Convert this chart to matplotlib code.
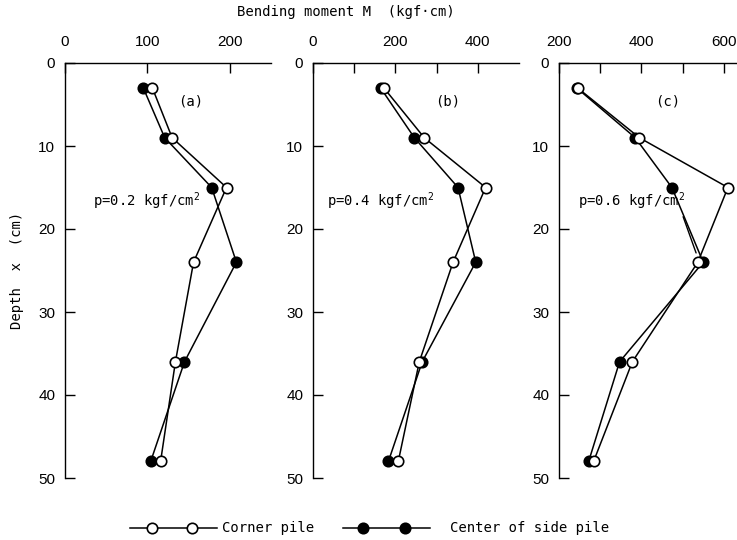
import matplotlib
matplotlib.use("Agg")
import matplotlib.pyplot as plt
from matplotlib.lines import Line2D

depth = [3, 9, 15, 24, 36, 48]

corner_a = [106, 130, 196, 156, 134, 116]
center_a = [95, 121, 178, 208, 145, 104]
corner_b = [172, 270, 419, 340, 258, 207]
center_b = [164, 246, 352, 395, 265, 183]
corner_c = [245, 395, 610, 537, 378, 284]
center_c = [243, 385, 474, 550, 347, 272]

panel_tags = ["(a)", "(b)", "(c)"]
pressures = ["p=0.2 kgf/cm$^{2}$", "p=0.4 kgf/cm$^{2}$", "p=0.6 kgf/cm$^{2}$"]
xlims = [(0, 250), (0, 500), (200, 700)]
xticks = [[0, 100, 200], [0, 100, 200, 300, 400], [200, 300, 400, 500, 600]]
xticklabels = [["0", "100", "200"], ["0", "", "200", "", "400"], ["200", "", "400", "", "600"]]
yticks = [0, 10, 20, 30, 40, 50]
legend_labels = ["Corner pile", "Center of side pile"]

mono = "DejaVu Sans Mono"
plt.rcParams["mathtext.fontset"] = "custom"
plt.rcParams["mathtext.rm"] = mono
plt.rcParams["mathtext.it"] = mono
plt.rcParams["mathtext.bf"] = mono

W, H = 737, 540
fig = plt.figure(figsize=(W / 100, H / 100), dpi=100)

lefts = [65, 313, 559]
width = 206
top, bottom = 63, 478

corners = [corner_a, corner_b, corner_c]
centers = [center_a, center_b, center_c]
tag_x = [152, 326, 463]
p_x = [34, 34, 246]

lw = 1.1
ms = 7.5
for i in range(3):
    ax = fig.add_axes([lefts[i] / W, (H - bottom) / H, width / W, (bottom - top) / H])
    ax.plot(centers[i], depth, "-o", color="black", mfc="black", mec="black",
            lw=lw, ms=ms, mew=1.2, zorder=3)
    ax.plot(corners[i], depth, "-o", color="black", mfc="white", mec="black",
            lw=lw, ms=ms, mew=1.2, zorder=4)
    ax.set_xlim(*xlims[i])
    ax.set_ylim(50, 0)
    ax.xaxis.tick_top()
    ax.set_xticks(xticks[i])
    ax.set_xticklabels(xticklabels[i])
    ax.set_yticks(yticks)
    for s in ["right", "bottom"]:
        ax.spines[s].set_visible(False)
    ax.spines["top"].set_linewidth(1.0)
    ax.spines["left"].set_linewidth(1.0)
    ax.tick_params(axis="both", direction="in", length=7, width=1.0,
                   labelsize=11)
    for lab in ax.get_xticklabels() + ax.get_yticklabels():
        lab.set_family("Liberation Sans")
    ax.tick_params(axis="x", pad=10)
    ax.tick_params(axis="y", pad=7)
    ax.text(tag_x[i], 4.6, panel_tags[i], ha="center", va="center",
            family=mono, fontsize=10)
    ax.text(p_x[i], 16.6, pressures[i], ha="left", va="center",
            family=mono, fontsize=10)
    if i == 2:
        ax.annotate("", xy=(535, 23.2), xytext=(499, 18.2),
                    arrowprops=dict(arrowstyle="-", color="black", lw=1.0))

fig.text(346 / W, 1 - 12 / H, "Bending moment M  (kgf\u00b7cm)", ha="center",
         va="center", family=mono, fontsize=10)
fig.text(17 / W, 1 - 270 / H, "Depth  x  (cm)", ha="center", va="center",
         rotation=90, family=mono, fontsize=10)

# legend drawn manually in figure coordinates
ly = 1 - 528 / H
specs = [((130, 217), (152, 192), "white", 222), ((343, 430), (363, 405), "black", 450)]
for k, ((x0, x1), (m0, m1), fc, tx) in enumerate(specs):
    fig.add_artist(Line2D([x0 / W, x1 / W], [ly, ly], transform=fig.transFigure,
                          color="black", lw=lw))
    fig.add_artist(Line2D([m0 / W, m1 / W], [ly, ly], transform=fig.transFigure,
                          ls="none", marker="o", mfc=fc, mec="black", ms=ms, mew=1.2))
    fig.text(tx / W, ly, legend_labels[k], ha="left", va="center",
             family=mono, fontsize=10)

fig.savefig("out.png", dpi=100)
